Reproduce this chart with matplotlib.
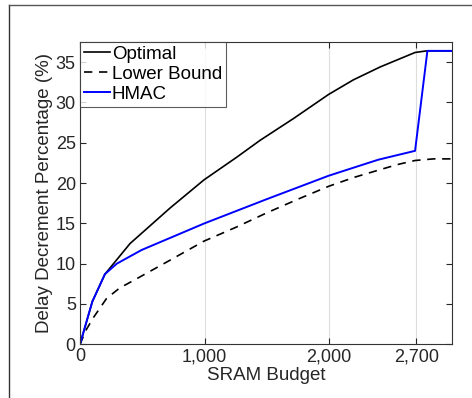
import matplotlib
matplotlib.use("Agg")
import matplotlib.pyplot as plt
from matplotlib.lines import Line2D

plt.rcParams['font.family'] = ['Liberation Sans', 'DejaVu Sans']

# data
opt_x = [0, 99, 200, 402, 723, 996, 1258, 1446, 1714, 1997, 2195, 2410, 2691, 2784, 3000]
opt_y = [0, 5.3, 8.7, 12.5, 16.9, 20.4, 23.2, 25.3, 28.0, 31.0, 32.8, 34.4, 36.2, 36.4, 36.4]

lb_x = [0, 50, 107, 214, 320, 428, 696, 996, 1250, 1499, 1750, 1997, 2200, 2396, 2550, 2691, 2838, 3000]
lb_y = [0, 1.8, 3.3, 5.7, 7.0, 7.9, 10.2, 12.8, 14.5, 16.3, 18.0, 19.6, 20.7, 21.6, 22.3, 22.8, 23.0, 23.0]

hmac_x = [0, 99, 200, 295, 495, 999, 1499, 1995, 2195, 2396, 2691, 2790, 3000]
hmac_y = [0, 5.3, 8.7, 10.0, 11.7, 15.0, 18.0, 20.9, 21.9, 22.9, 24.0, 36.4, 36.4]

x_ticks = [0, 1000, 2000, 2700]
x_ticklabels = ['0', '1,000', '2,000', '2,700']
y_ticks = [0, 5, 10, 15, 20, 25, 30, 35]

fig = plt.figure(figsize=(4.72, 3.98), dpi=100)
W, H = 472.0, 398.0
ax = fig.add_axes([80 / W, 1 - 344.3 / H, (452.3 - 80) / W, (344.3 - 42) / H])

ax.plot(opt_x, opt_y, '-', color='black', lw=1.2, label='Optimal')
ax.plot(lb_x, lb_y, '--', color='black', lw=1.2, dashes=(5, 4), label='Lower Bound')
ax.plot(hmac_x, hmac_y, '-', color='#0000ff', lw=1.4, label='HMAC')

ax.set_xlim(0, 2990)
ax.set_ylim(0, 37.5)
ax.set_xticks(x_ticks)
ax.set_xticklabels(x_ticklabels)
ax.set_yticks(y_ticks)
ax.grid(axis='x', color='#dddddd', lw=0.8)
ax.set_axisbelow(True)

ax.tick_params(direction='in', top=True, right=True, length=4, width=0.8,
               labelsize=13, colors='#262626', pad=3)
for s in ax.spines.values():
    s.set_color('#333333')
    s.set_linewidth(0.8)

ax.set_xlabel('SRAM Budget', fontsize=13.5, color='#262626', labelpad=1)
ax.set_ylabel('Delay Decrement Percentage (%)', fontsize=13.5, color='#262626', labelpad=2)

leg = ax.legend(loc='upper left', fontsize=13.5, frameon=True, fancybox=False,
                borderaxespad=0, handlelength=1.4, handletextpad=0.1,
                labelspacing=0.15, borderpad=0.2)
leg.get_frame().set_edgecolor('#333333')
leg.get_frame().set_linewidth(0.8)
for t in leg.get_texts():
    t.set_color('black')

# outer frame of the crop
fig.add_artist(Line2D([9 / W, 9 / W], [0, 1 - 5 / H], color='#333333', lw=1.0))
fig.add_artist(Line2D([9 / W, 1], [1 - 5 / H, 1 - 5 / H], color='#555555', lw=1.0))

fig.savefig('out.png', dpi=100)
